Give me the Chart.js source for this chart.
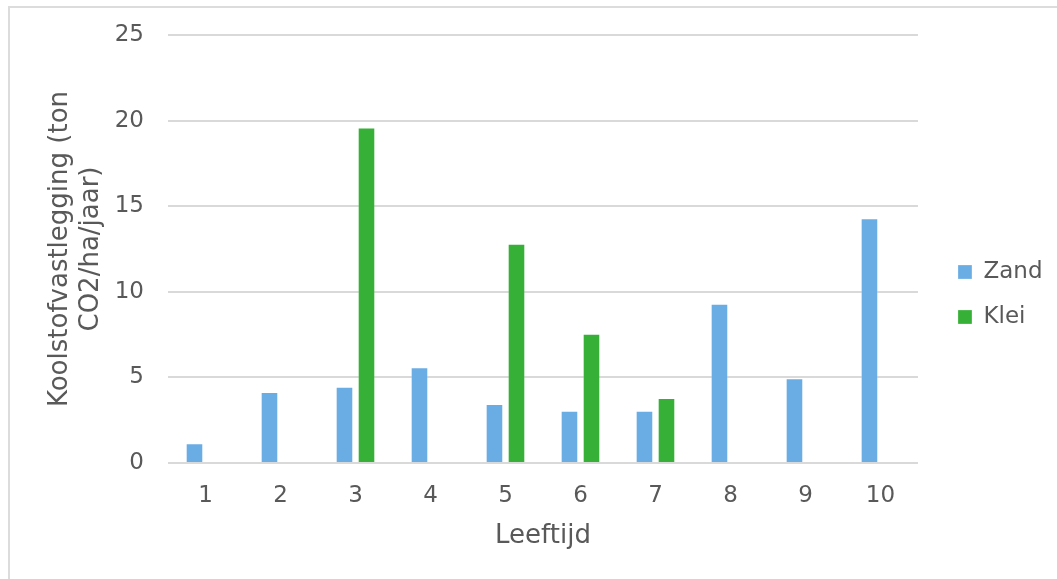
<!DOCTYPE html>
<html>
<head>
<meta charset="utf-8">
<script src="https://cdn.jsdelivr.net/npm/chart.js@4"></script>
<style>
  html, body { margin: 0; padding: 0; background: #fff; overflow: hidden; }
  .frame {
    position: absolute; left: 8px; top: 6px; width: 1200px; height: 700px;
    border-top: 2px solid #dcdcdc; border-left: 2px solid #dcdcdc;
  }
  .wrap { position: absolute; left: 0; top: 0; width: 1057px; height: 579px; }
</style>
</head>
<body>
<div class="frame"></div>
<div class="wrap"><canvas id="chart"></canvas></div>
<script>
const leeftijd = ['1', '2', '3', '4', '5', '6', '7', '8', '9', '10'];
const zand = [1.15, 4.15, 4.45, 5.6, 3.45, 3.05, 3.05, 9.3, 4.95, 14.3];
const klei = [null, null, 19.6, null, 12.8, 7.55, 3.8, null, null, null];
const yTicks = [0, 5, 10, 15, 20, 25];

const textColor = '#595959';
const gridColor = '#d9d9d9';
Chart.defaults.font.family = '"DejaVu Sans", Verdana, sans-serif';
Chart.defaults.color = textColor;

// the legend sits a bit further from the plot than its padding allows
const legendShift = {
  id: 'legendShift',
  afterLayout(chart) {
    chart.legend.left += 18;
    chart.legend.right += 18;
  }
};

new Chart(document.getElementById('chart'), {
  type: 'bar',
  data: {
    labels: leeftijd,
    datasets: [
      {
        label: 'Zand',
        data: zand,
        backgroundColor: '#6aade4',
        borderColor: 'rgba(255,255,255,0.25)',
        borderWidth: 1
      },
      {
        label: 'Klei',
        data: klei,
        backgroundColor: '#36b036',
        borderColor: 'rgba(255,255,255,0.25)',
        borderWidth: 1
      }
    ]
  },
  options: {
    responsive: true,
    maintainAspectRatio: false,
    animation: false,
    categoryPercentage: 0.587,
    barPercentage: 0.8,
    layout: { padding: { top: 35, left: 0, right: 22.5, bottom: 25 } },
    plugins: {
      tooltip: { enabled: false },
      legend: {
        position: 'right',
        align: 'center',
        labels: {
          boxWidth: 14,
          boxHeight: 14,
          padding: 22,
          color: textColor,
          font: { size: 23 }
        }
      }
    },
    scales: {
      x: {
        grid: { display: false, drawTicks: false },
        border: { display: false },
        ticks: { padding: 19, font: { size: 23 }, color: textColor },
        title: {
          display: true,
          text: 'Leeftijd',
          color: textColor,
          font: { size: 26 },
          padding: { top: 0, bottom: 2.4 }
        },
        afterFit(scale) { scale.height = 91; }
      },
      y: {
        min: 0,
        max: 25,
        afterBuildTicks(scale) { scale.ticks = yTicks.map(v => ({ value: v })); },
        grid: { color: gridColor, lineWidth: 2, drawTicks: false },
        border: { display: false },
        ticks: { padding: 24, font: { size: 23 }, color: textColor },
        title: {
          display: true,
          text: ['Koolstofvastlegging (ton', 'CO2/ha/jaar)'],
          color: textColor,
          font: { size: 26 },
          padding: { top: 44.4, bottom: 0 }
        },
        afterFit(scale) {
          scale.width = 168;
          // tick padding would otherwise push the plot top down
          scale.paddingTop = 0;
          scale.paddingBottom = 0;
        }
      }
    }
  },
  plugins: [legendShift]
});
</script>
</body>
</html>
